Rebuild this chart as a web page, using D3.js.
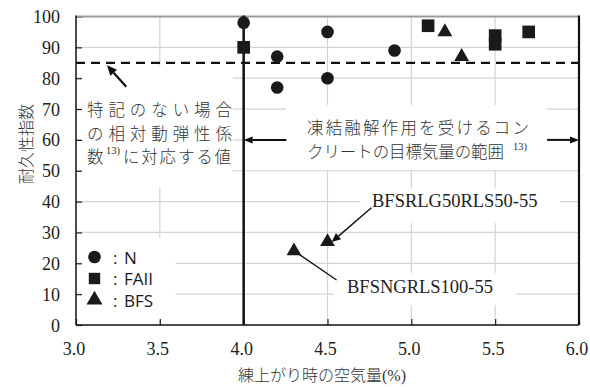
<!DOCTYPE html>
<html><head><meta charset="utf-8">
<script src="https://cdn.jsdelivr.net/npm/d3@7"></script>
<style>
html,body{margin:0;padding:0;background:#fff;}
svg{display:block;}
</style></head>
<body>
<svg id="chart" width="590" height="387"></svg>
<script>
// ---- data ----
const nX = [4.0, 4.2, 4.2, 4.5, 4.5, 4.9];
const nY = [98, 87, 77, 95, 80, 89];
const faX = [4.0, 5.1, 5.5, 5.5, 5.7];
const faY = [90, 97, 93.8, 91, 95];
const bfsX = [5.2, 5.3, 4.3, 4.5];
const bfsY = [95, 87, 24, 27];
const xTicks = [3.0, 3.5, 4.0, 4.5, 5.0, 5.5, 6.0];
const yTicks = [0, 10, 20, 30, 40, 50, 60, 70, 80, 90, 100];
const refLineY = 85;
const rangeStartX = 4.0;
const legendLabels = ["N", "FAII", "BFS"];

const svg = d3.select("#chart");
const L = 76, R = 579, T = 16.5, B = 325;
const x = d3.scaleLinear().domain([3, 6]).range([L, R]);
const y = d3.scaleLinear().domain([0, 100]).range([B, T]);

const serif = "'Liberation Serif','Times New Roman',serif";
const jp = "'Noto Sans CJK JP','Noto Sans',sans-serif";
const sans = "'Open Sans','Noto Sans',sans-serif";

// gridlines
const grid = svg.append("g");
grid.selectAll("line.gx").data(xTicks.slice(1, -1)).join("line")
  .attr("x1", d => x(d)).attr("x2", d => x(d)).attr("y1", T).attr("y2", B)
  .attr("stroke", "#d4d4d4").attr("stroke-width", 1.2);
grid.selectAll("line.gy").data(yTicks.slice(1, -1)).join("line")
  .attr("x1", L).attr("x2", R).attr("y1", d => y(d)).attr("y2", d => y(d))
  .attr("stroke", "#d4d4d4").attr("stroke-width", 1.2);

// white boxes (in data units)
const boxes = [
  [3.036, 3.935, 84.1, 44.6],
  [4.252, 5.807, 71.3, 50.3],
  [4.696, 5.887, 44.3, 33.0],
  [4.536, 5.625, 16.9, 6.5],
  [3.036, 3.595, 28.2, 1.5]
];
svg.append("g").selectAll("rect").data(boxes).join("rect")
  .attr("x", d => x(d[0])).attr("width", d => x(d[1]) - x(d[0]))
  .attr("y", d => y(d[2])).attr("height", d => y(d[3]) - y(d[2]))
  .attr("fill", "#fff");

// ticks (inward)
svg.append("g").attr("transform", `translate(${L},0)`)
  .call(d3.axisRight(y).tickValues(yTicks).tickSize(6).tickFormat(""))
  .call(g => g.select(".domain").remove())
  .call(g => g.selectAll("line").attr("stroke", "#222").attr("stroke-width", 1.2));
svg.append("g").attr("transform", `translate(0,${B})`)
  .call(d3.axisTop(x).tickValues(xTicks).tickSize(6).tickFormat(""))
  .call(g => g.select(".domain").remove())
  .call(g => g.selectAll("line").attr("stroke", "#222").attr("stroke-width", 1.2));

// tick labels
svg.append("g").selectAll("text").data(yTicks).join("text")
  .attr("x", 60).attr("y", d => y(d) + 6.5).attr("text-anchor", "end")
  .attr("font-family", serif).attr("font-size", 18).attr("fill", "#222")
  .text(d => d);
svg.append("g").selectAll("text").data(xTicks).join("text")
  .attr("x", d => x(d) - 2).attr("y", 355).attr("text-anchor", "middle")
  .attr("font-family", serif).attr("font-size", 18).attr("fill", "#222")
  .text(d => d.toFixed(1));

// frame
svg.append("line").attr("x1", L).attr("x2", R).attr("y1", T).attr("y2", T)
  .attr("stroke", "#9a9a9a").attr("stroke-width", 2);
svg.append("line").attr("x1", L).attr("x2", L).attr("y1", T - 1).attr("y2", B)
  .attr("stroke", "#111").attr("stroke-width", 1.5);
svg.append("line").attr("x1", L).attr("x2", R).attr("y1", B).attr("y2", B)
  .attr("stroke", "#111").attr("stroke-width", 1.5);
svg.append("line").attr("x1", R).attr("x2", R).attr("y1", T - 1).attr("y2", B)
  .attr("stroke", "#111").attr("stroke-width", 2.2);

// reference lines
svg.append("line").attr("x1", L).attr("x2", R).attr("y1", y(refLineY)).attr("y2", y(refLineY))
  .attr("stroke", "#111").attr("stroke-width", 2.2).attr("stroke-dasharray", "9,6");
svg.append("line").attr("x1", x(rangeStartX)).attr("x2", x(rangeStartX)).attr("y1", T - 1).attr("y2", B)
  .attr("stroke", "#111").attr("stroke-width", 2.5);

// arrow helper
function arrow(x1, y1, x2, y2, w, head, hw) {
  const px1 = x(x1), py1 = y(y1), px2 = x(x2), py2 = y(y2);
  const ang = Math.atan2(py2 - py1, px2 - px1);
  const bx = px2 - head * Math.cos(ang), by = py2 - head * Math.sin(ang);
  svg.append("line").attr("x1", px1).attr("y1", py1).attr("x2", bx).attr("y2", by)
    .attr("stroke", "#111").attr("stroke-width", w);
  if (head > 0) {
    const nx = -Math.sin(ang) * hw, ny = Math.cos(ang) * hw;
    svg.append("polygon")
      .attr("points", `${px2},${py2} ${bx + nx},${by + ny} ${bx - nx},${by - ny}`)
      .attr("fill", "#111");
  }
}
arrow(3.30, 77.2, 3.185, 84.2, 2.2, 10, 4.5);
arrow(4.255, 60, 4.0, 60, 2, 9, 3.5);
arrow(5.81, 60, 6.0, 60, 2, 9, 3.5);
arrow(4.762, 38.0, 4.525, 26.9, 1.4, 9, 4);
arrow(4.554, 14.6, 4.32, 23.3, 1.4, 0, 0);

// points
const sym = (type, size) => d3.symbol().type(type).size(size)();
svg.append("g").selectAll("path").data(nX.map((d, i) => [d, nY[i]])).join("path")
  .attr("transform", d => `translate(${x(d[0])},${y(d[1])})`)
  .attr("d", sym(d3.symbolCircle, 125)).attr("fill", "#1a1a1a");
svg.append("g").selectAll("path").data(faX.map((d, i) => [d, faY[i]])).join("path")
  .attr("transform", d => `translate(${x(d[0])},${y(d[1])})`)
  .attr("d", sym(d3.symbolSquare, 160)).attr("fill", "#1a1a1a");
svg.append("g").selectAll("path").data(bfsX.map((d, i) => [d, bfsY[i]])).join("path")
  .attr("transform", d => `translate(${x(d[0])},${y(d[1])})`)
  .attr("d", sym(d3.symbolTriangle, 95)).attr("fill", "#1a1a1a");

// legend
const lg = svg.append("g");
const legSyms = [d3.symbolCircle, d3.symbolSquare, d3.symbolTriangle];
const legSizes = [125, 130, 110];
legendLabels.forEach((lab, i) => {
  const cy = 257 + i * 21.5;
  lg.append("path").attr("transform", `translate(94.5,${cy})`)
    .attr("d", sym(legSyms[i], legSizes[i])).attr("fill", "#1a1a1a");
  lg.append("text").attr("x", 113).attr("y", cy + 6.5)
    .attr("font-family", sans).attr("font-size", 17).attr("fill", "#1a1a1a")
    .text(":");
  lg.append("text").attr("x", 124).attr("y", cy + 6.5)
    .attr("font-family", sans).attr("font-size", 17).attr("fill", "#1a1a1a")
    .text(lab);
});

// annotation texts
function jtext(str, xx, yy, size, len) {
  const t = svg.append("text").attr("x", xx).attr("y", yy)
    .attr("font-family", jp).attr("font-size", size).attr("fill", "#333")
    .attr("font-weight", 300).text(str);
  if (len) t.attr("textLength", len).attr("lengthAdjust", "spacing");
  return t;
}
jtext("特記のない場合", 87, 116, 16.5, 145);
jtext("の相対動弾性係", 87, 140, 16.5, 145);
jtext("数", 87, 163, 16.5);
svg.append("text").attr("x", 106).attr("y", 154).attr("font-family", serif)
  .attr("font-size", 10.5).attr("fill", "#333").text("13)");
jtext("に対応する値", 123, 163, 16.5, 108);

jtext("凍結融解作用を受けるコン", 307, 134, 16.5, 222);
jtext("クリートの目標気量の範囲", 307, 158, 16.5, 197);
svg.append("text").attr("x", 513).attr("y", 150).attr("font-family", serif)
  .attr("font-size", 10.5).attr("fill", "#333").text("13)");

svg.append("text").attr("x", 372).attr("y", 206.5).attr("font-family", serif)
  .attr("font-size", 18.5).attr("fill", "#222").text("BFSRLG50RLS50-55");
svg.append("text").attr("x", 347).attr("y", 293).attr("font-family", serif)
  .attr("font-size", 18.5).attr("fill", "#222").text("BFSNGRLS100-55");

// axis titles
svg.append("text").attr("x", 322).attr("y", 381).attr("text-anchor", "middle")
  .attr("font-family", jp).attr("font-size", 16).attr("fill", "#333").attr("font-weight", 300)
  .text("練上がり時の空気量")
  .append("tspan").attr("font-family", serif).text("(%)");
svg.append("text").attr("transform", "translate(32,144) rotate(-90)")
  .attr("text-anchor", "middle").attr("font-family", jp).attr("font-size", 16)
  .attr("fill", "#333").attr("font-weight", 300).text("耐久性指数");
</script>
</body></html>
